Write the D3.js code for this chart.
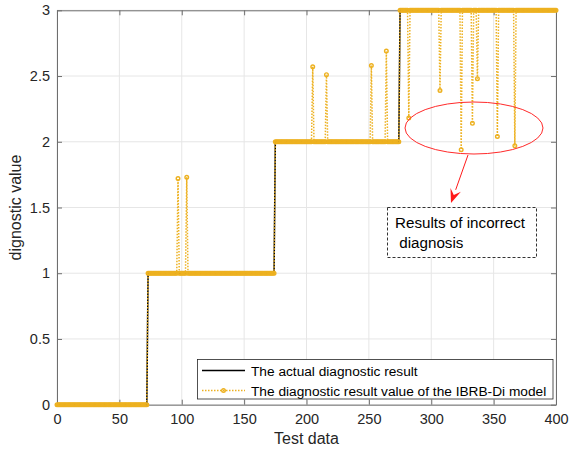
<!DOCTYPE html>
<html>
<head>
<meta charset="utf-8">
<script src="https://cdn.jsdelivr.net/npm/d3@7"></script>
<style>
  html, body { margin: 0; padding: 0; background: #fff; }
  svg { display: block; font-family: "Liberation Sans", Arial, sans-serif; }
</style>
</head>
<body>
<svg id="chart" width="570" height="453"></svg>
<script>
// Test samples 0..400; the true class changes at these sample indices
const sampleCount = 400;
const stepStarts = [0, 73, 175, 275];
const stepLevels = [0, 1, 2, 3];

// Samples where the IBRB-Di model output differs from the true class
const errorSamples = [97, 104, 205, 216, 252, 264, 282, 307, 324, 333, 337, 353, 367];
const errorValues  = [1.72, 1.73, 2.57, 2.51, 2.58, 2.69, 2.18, 2.39, 1.94, 2.14, 2.48, 2.04, 1.97];

const xTicks = [0, 50, 100, 150, 200, 250, 300, 350, 400];
const yTicks = [0, 0.5, 1, 1.5, 2, 2.5, 3];
const yTickLabels = ["0", "0.5", "1", "1.5", "2", "2.5", "3"];

const legendLabels = ["The actual diagnostic result", "The diagnostic result value of the IBRB-Di model"];
const noteLines = ["Results of incorrect", " diagnosis"];

// Build the series
const actual = [];
for (let i = 0; i <= sampleCount; i++) {
  let lvl = 0;
  stepStarts.forEach((s, k) => { if (i >= s) lvl = stepLevels[k]; });
  actual.push({ x: i, y: lvl });
}
const errMap = new Map(errorSamples.map((s, i) => [s, errorValues[i]]));
const predicted = actual.map(d => ({ x: d.x, y: errMap.has(d.x) ? errMap.get(d.x) : d.y }));

const svg = d3.select("#chart");
const plotL = 57, plotR = 556, plotT = 10.3, plotB = 404.7;
const x = d3.scaleLinear().domain([0, 400]).range([plotL, plotR]);
const y = d3.scaleLinear().domain([0, 3]).range([plotB, plotT]);

const axisColor = "#6e6e6e";
const textColor = "#262626";
const orange = "#EDB120";

// Grid
const grid = svg.append("g");
grid.selectAll(".gx").data(xTicks).join("line")
  .attr("x1", d => x(d)).attr("x2", d => x(d))
  .attr("y1", plotT).attr("y2", plotB)
  .attr("stroke", "#e6e6e6").attr("stroke-width", 1);
grid.selectAll(".gy").data(yTicks).join("line")
  .attr("x1", plotL).attr("x2", plotR)
  .attr("y1", d => y(d)).attr("y2", d => y(d))
  .attr("stroke", "#e6e6e6").attr("stroke-width", 1);

// Axes (ticks inward, box on)
const tickLen = 5;
const axB = svg.append("g").attr("transform", `translate(0,${plotB})`)
  .call(d3.axisBottom(x).tickValues(xTicks).tickSizeInner(-tickLen).tickSizeOuter(0).tickPadding(9));
const axT = svg.append("g").attr("transform", `translate(0,${plotT})`)
  .call(d3.axisTop(x).tickValues(xTicks).tickSizeInner(-tickLen).tickSizeOuter(0).tickFormat(""));
const axL = svg.append("g").attr("transform", `translate(${plotL},0)`)
  .call(d3.axisLeft(y).tickValues(yTicks).tickSizeInner(-tickLen).tickSizeOuter(0).tickPadding(7)
    .tickFormat((d, i) => yTickLabels[i]));
const axR = svg.append("g").attr("transform", `translate(${plotR},0)`)
  .call(d3.axisRight(y).tickValues(yTicks).tickSizeInner(-tickLen).tickSizeOuter(0).tickFormat(""));
[axB, axT, axL, axR].forEach(g => {
  g.select(".domain").attr("stroke", axisColor).attr("stroke-width", 1);
  g.selectAll(".tick line").attr("stroke", axisColor).attr("stroke-width", 1);
  g.selectAll(".tick text").attr("fill", textColor).attr("font-size", 14.5)
    .attr("font-family", "'Liberation Sans', Arial, sans-serif");
});

// Series
const line = d3.line().x(d => x(d.x)).y(d => y(d.y));
svg.append("path").datum(actual).attr("d", line)
  .attr("fill", "none").attr("stroke", "#000").attr("stroke-width", 1.5);
svg.append("path").datum(predicted).attr("d", line)
  .attr("fill", "none").attr("stroke", orange).attr("stroke-width", 1.5)
  .attr("stroke-dasharray", "1.5 1.5");
svg.append("g").selectAll("circle").data(predicted).join("circle")
  .attr("cx", d => x(d.x)).attr("cy", d => y(d.y)).attr("r", 1.8)
  .attr("fill", "none").attr("stroke", orange).attr("stroke-width", 1.4);

// Axis titles
svg.append("text").attr("x", (plotL + plotR) / 2).attr("y", 444)
  .attr("text-anchor", "middle").attr("font-size", 16).attr("fill", textColor).text("Test data");
svg.append("text").attr("transform", `translate(21,${(plotT + plotB) / 2}) rotate(-90)`)
  .attr("text-anchor", "middle").attr("font-size", 16).attr("fill", textColor).text("dignostic value");

// Annotation: ellipse, arrow, dashed note box
svg.append("ellipse").attr("cx", 474).attr("cy", 128).attr("rx", 69).attr("ry", 26)
  .attr("fill", "none").attr("stroke", "#ff2a2a").attr("stroke-width", 1);
const ax0 = 468, ay0 = 155, ax1 = 451, ay1 = 203;
const ang = Math.atan2(ay1 - ay0, ax1 - ax0);
const hl = 14, hw = 5.5;
const bx = ax1 - hl * Math.cos(ang), by = ay1 - hl * Math.sin(ang);
svg.append("line").attr("x1", ax0).attr("y1", ay0).attr("x2", bx).attr("y2", by)
  .attr("stroke", "#ff1a1a").attr("stroke-width", 1);
svg.append("path")
  .attr("d", `M${ax1},${ay1} L${bx + hw * Math.sin(ang)},${by - hw * Math.cos(ang)} L${ax1 - 0.6 * hl * Math.cos(ang)},${ay1 - 0.6 * hl * Math.sin(ang)} L${bx - hw * Math.sin(ang)},${by + hw * Math.cos(ang)} Z`)
  .attr("fill", "#ff1a1a");
svg.append("rect").attr("x", 387.5).attr("y", 207.5).attr("width", 149).attr("height", 50)
  .attr("fill", "#fff").attr("stroke", "#333").attr("stroke-width", 1).attr("stroke-dasharray", "3 2");
svg.append("g").selectAll("text").data(noteLines).join("text")
  .attr("x", 395).attr("y", (d, i) => 228 + i * 20)
  .attr("font-size", 15.2).attr("fill", "#000")
  .style("white-space", "pre").text(d => d);

// Legend
const lg = svg.append("g");
lg.append("rect").attr("x", 197.5).attr("y", 359.5).attr("width", 355.5).attr("height", 39.5)
  .attr("fill", "#fff").attr("stroke", textColor).attr("stroke-width", 0.8);
lg.append("line").attr("x1", 202).attr("x2", 245).attr("y1", 370.5).attr("y2", 370.5)
  .attr("stroke", "#000").attr("stroke-width", 1.5);
lg.append("line").attr("x1", 202).attr("x2", 245).attr("y1", 390.5).attr("y2", 390.5)
  .attr("stroke", orange).attr("stroke-width", 1.5).attr("stroke-dasharray", "1.5 1.5");
lg.append("circle").attr("cx", 223.5).attr("cy", 390.5).attr("r", 1.8)
  .attr("fill", "none").attr("stroke", orange).attr("stroke-width", 1.4);
lg.selectAll(".lt").data(legendLabels).join("text")
  .attr("x", 251).attr("y", (d, i) => 375.5 + i * 20)
  .attr("font-size", 13.7).attr("fill", "#000").text(d => d);
</script>
</body>
</html>
